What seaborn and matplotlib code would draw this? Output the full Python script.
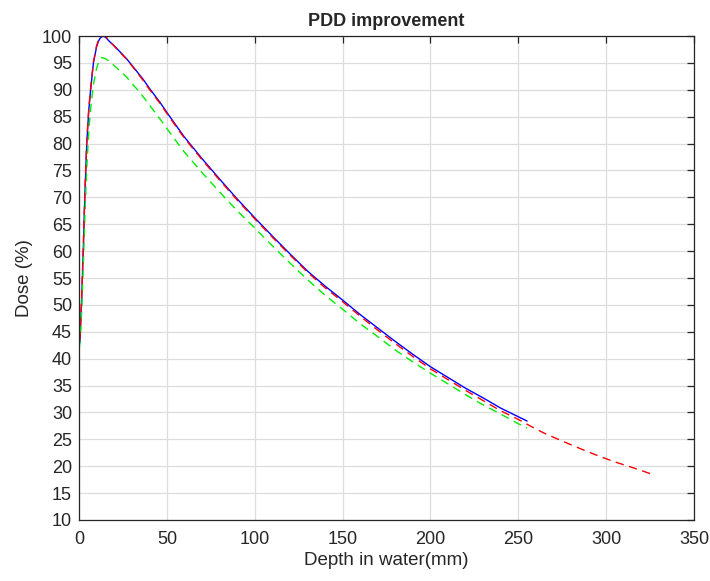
import matplotlib
matplotlib.use("Agg")
import matplotlib.pyplot as plt
import seaborn as sns
import pandas as pd

# depth (mm) and dose (%)
depth_blue = [0.5, 1, 1.5, 2, 2.5, 3, 3.5, 4.4, 5.5, 6.6, 8.2, 10, 11, 12, 13.5, 15, 17.6, 20,
              27, 30, 36.6, 40, 46, 50, 55.6, 60, 70, 80, 90, 100, 110, 120, 130, 140,
              150, 160, 170, 180, 190, 200, 210, 220, 230, 240, 250, 255]
dose_blue = [43, 47, 51, 56, 61, 67, 72, 80, 86, 90, 95, 98, 99, 99.6, 100, 99.8, 98.9, 98.2,
             95.8, 94.6, 91.9, 90.3, 87.7, 85.8, 83.2, 81.2, 77.2, 73.4, 69.7, 66.2, 62.8,
             59.5, 56.3, 53.5, 50.9, 48.2, 45.7, 43.2, 40.8, 38.5, 36.5, 34.5, 32.7, 30.8,
             29.2, 28.4]

depth_red = [0.5, 1, 1.5, 2, 2.5, 3, 3.5, 4.4, 5.5, 6.6, 8.2, 10, 11, 12, 14, 15, 17.6, 20,
             27, 30, 36.6, 40, 46, 50, 55.6, 60, 70, 80, 90, 100, 110, 120, 130, 140,
             150, 160, 170, 180, 190, 200, 210, 220, 230, 240, 250, 256.7, 265, 275.6,
             285, 296.5, 305, 313.6, 320, 327]
dose_red = [43.5, 47.5, 51.5, 56.5, 61.5, 67.5, 72.5, 80.5, 86.3, 90.3, 95.2, 98.2, 99.2,
            99.7, 100.2, 100, 99, 98.1, 95.7, 94.5, 91.7, 90.1, 87.5, 85.6, 83, 81, 77,
            73.2, 69.5, 66, 62.6, 59.3, 56.1, 53.2, 50.6, 47.9, 45.3, 42.8, 40.4, 38.1, 36.1,
            34.1, 32.2, 30.3, 28.7, 27.5, 26.1, 24.6, 23.3, 21.8, 20.8, 19.9, 19.2, 18.4]

depth_green = [0.2, 1, 1.5, 2, 2.5, 3, 3.5, 4.4, 5.5, 6.6, 8.2, 10, 11, 12, 13, 15, 17.6, 20,
               27, 30, 34.7, 40, 46, 50, 55.6, 60, 70, 80, 90, 100, 110, 120, 130, 140,
               150, 160, 170, 180, 190, 200, 210, 220, 230, 240, 250, 255]
dose_green = [42, 45.5, 49, 53.5, 58, 63, 68, 75.5, 82, 86.5, 91, 94, 95, 95.6, 96, 95.8,
              95.2, 94.5, 92.4, 91.2, 89.5, 87.2, 84.6, 82.8, 80.3, 78.4, 74.6, 71, 67.5,
              64.3, 61, 57.8, 54.7, 51.8, 49.2, 46.5, 44.1, 41.6, 39.4, 37.3, 35.3, 33.3,
              31.4, 29.7, 27.9, 27.1]

sns.set_style("white")
plt.rcParams['font.family'] = ['Liberation Sans', 'DejaVu Sans']

fig = plt.figure(figsize=(7.1, 5.81), dpi=100)
ax = fig.add_axes([0.1113, 0.105, 0.8662, 0.833])

blue = pd.DataFrame({'depth': depth_blue, 'dose': dose_blue})
green = pd.DataFrame({'depth': depth_green, 'dose': dose_green})
red = pd.DataFrame({'depth': depth_red, 'dose': dose_red})

sns.lineplot(data=blue, x='depth', y='dose', color='#0000ff', lw=1.0, sort=False,
             estimator=None, ax=ax)
sns.lineplot(data=green, x='depth', y='dose', color='#00ee00', lw=1.0, sort=False,
             estimator=None, ax=ax)
ax.lines[-1].set_dashes((6, 4))
sns.lineplot(data=red, x='depth', y='dose', color='#ff0000', lw=1.0, sort=False,
             estimator=None, ax=ax)
ax.lines[-1].set_dashes((6, 4))

ax.set_xlim(0, 350)
ax.set_ylim(10, 100)
ax.set_xticks(range(0, 351, 50))
ax.set_yticks(range(10, 101, 5))
ax.grid(True, color='#dddddd', lw=0.9)
ax.set_axisbelow(True)
ax.tick_params(direction='in', length=5, width=0.9, top=True, right=True,
               labelsize=13, colors='#262626')
ax.tick_params(axis='x', pad=8)
ax.tick_params(axis='y', pad=5)
for s in ax.spines.values():
    s.set_color('#262626')
    s.set_linewidth(0.9)

ax.set_title('PDD improvement', fontsize=13, fontweight='bold', pad=7)
ax.set_xlabel('Depth in water(mm)', fontsize=13.5, color='#262626', labelpad=3)
ax.set_ylabel('Dose (%)', fontsize=13.5, color='#262626', labelpad=6)

fig.savefig('out.png', dpi=100)
